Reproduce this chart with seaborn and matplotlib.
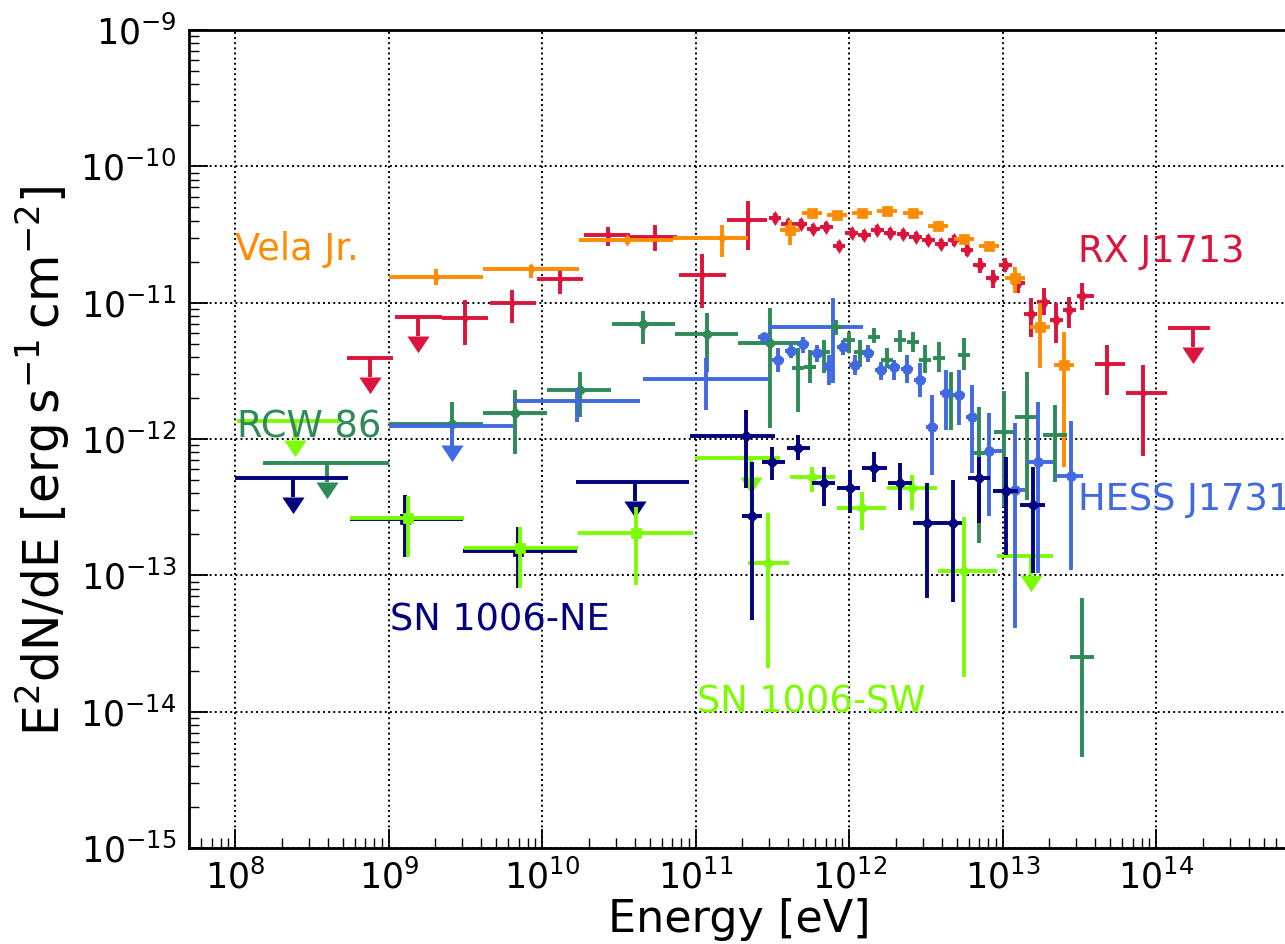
import numpy as np
import matplotlib
matplotlib.use("Agg")
import matplotlib.pyplot as plt
from matplotlib.path import Path
from matplotlib.ticker import LogLocator, NullFormatter
import seaborn as sns

# ---------------- RX J1713 ----------------
rx_ul_e = [7.5e8, 1.55e9, 1.73e14]
rx_ul_elo = [5.3e8, 1.09e9, 1.19e14]
rx_ul_ehi = [1.06e9, 2.21e9, 2.23e14]
rx_ul_f = [3.9e-12, 7.8e-12, 6.5e-12]

rx_lat_e = [3.13e9, 6.33e9, 1.30e10, 2.67e10, 5.41e10, 1.09e11, 2.18e11, 4.76e13, 8.17e13]
rx_lat_elo = [2.21e9, 4.55e9, 9.21e9, 1.86e10, 3.72e10, 7.75e10, 1.59e11, 3.97e13, 6.33e13]
rx_lat_ehi = [4.42e9, 9.07e9, 1.84e10, 3.72e10, 7.52e10, 1.57e11, 2.90e11, 6.24e13, 1.17e14]
rx_lat_f = [7.7e-12, 9.9e-12, 1.49e-11, 3.13e-11, 3.03e-11, 1.59e-11, 4.04e-11, 3.54e-12, 2.17e-12]
rx_lat_flo = [4.9e-12, 7.1e-12, 1.16e-11, 2.60e-11, 2.39e-11, 9.1e-12, 2.43e-11, 2.10e-12, 7.49e-13]
rx_lat_fhi = [1.04e-11, 1.24e-11, 1.82e-11, 3.59e-11, 3.71e-11, 2.27e-11, 5.56e-11, 4.89e-12, 3.48e-12]

rx_tev_e = [3.27e11, 3.96e11, 4.80e11, 5.82e11, 7.05e11, 8.54e11, 1.035e12, 1.25e12, 1.52e12,
            1.84e12, 2.23e12, 2.70e12, 3.27e12, 3.97e12, 4.81e12, 5.82e12, 7.06e12, 8.55e12,
            1.035e13, 1.26e13, 1.52e13, 1.84e13, 2.23e13, 2.71e13, 3.28e13]
rx_tev_elo = [2.97e11, 3.60e11, 4.36e11, 5.29e11, 6.41e11, 7.76e11, 9.41e11, 1.14e12, 1.38e12,
              1.67e12, 2.03e12, 2.45e12, 2.97e12, 3.61e12, 4.37e12, 5.29e12, 6.42e12, 7.77e12,
              9.41e12, 1.15e13, 1.38e13, 1.67e13, 2.03e13, 2.46e13, 3.02e13]
rx_tev_ehi = [3.60e11, 4.36e11, 5.28e11, 6.40e11, 7.76e11, 9.39e11, 1.14e12, 1.38e12, 1.67e12,
              2.02e12, 2.45e12, 2.97e12, 3.60e12, 4.37e12, 5.29e12, 6.40e12, 7.77e12, 9.41e12,
              1.14e13, 1.39e13, 1.67e13, 2.02e13, 2.45e13, 2.98e13, 3.90e13]
rx_tev_f = [4.17e-11, 3.77e-11, 3.77e-11, 3.47e-11, 3.59e-11, 2.60e-11, 3.24e-11, 3.13e-11, 3.41e-11,
            3.24e-11, 3.19e-11, 3.03e-11, 2.88e-11, 2.69e-11, 2.88e-11, 2.43e-11, 1.89e-11, 1.52e-11,
            1.89e-11, 1.39e-11, 8.25e-12, 1.01e-11, 7.45e-12, 8.83e-12, 1.12e-11]
rx_tev_flo = [3.83e-11, 3.46e-11, 3.46e-11, 3.19e-11, 3.30e-11, 2.39e-11, 2.98e-11, 2.88e-11, 3.13e-11,
              2.98e-11, 2.93e-11, 2.78e-11, 2.65e-11, 2.47e-11, 2.62e-11, 2.20e-11, 1.65e-11, 1.28e-11,
              1.68e-11, 1.18e-11, 5.59e-12, 8.11e-12, 5.05e-12, 6.51e-12, 8.83e-12]
rx_tev_fhi = [4.54e-11, 4.10e-11, 4.10e-11, 3.78e-11, 3.91e-11, 2.83e-11, 3.53e-11, 3.41e-11, 3.71e-11,
              3.53e-11, 3.47e-11, 3.30e-11, 3.13e-11, 2.93e-11, 3.16e-11, 2.68e-11, 2.12e-11, 1.73e-11,
              2.12e-11, 1.59e-11, 1.08e-11, 1.28e-11, 9.93e-12, 1.10e-11, 1.39e-11]

# ---------------- Vela Jr. ----------------
vela_lat_e = [2.02e9, 8.41e9, 3.55e10, 1.48e11]
vela_lat_elo = [1.0e9, 4.1e9, 1.73e10, 7.08e10]
vela_lat_ehi = [4.1e9, 1.73e10, 7.08e10, 2.18e11]
vela_lat_f = [1.54e-11, 1.77e-11, 2.88e-11, 2.98e-11]
vela_lat_flo = [1.35e-11, 1.52e-11, 2.70e-11, 2.16e-11]
vela_lat_fhi = [1.77e-11, 1.89e-11, 3.05e-11, 3.71e-11]

vela_tev_e = [4.09e11, 5.70e11, 8.29e11, 1.21e12, 1.75e12, 2.59e12, 3.77e12, 5.57e12, 8.11e12,
              1.20e13, 1.74e13, 2.50e13]
vela_tev_elo = [3.52e11, 4.91e11, 7.13e11, 1.04e12, 1.51e12, 2.23e12, 3.24e12, 4.79e12, 6.98e12,
                1.03e13, 1.50e13, 2.15e13]
vela_tev_ehi = [4.75e11, 6.62e11, 9.63e11, 1.41e12, 2.03e12, 3.01e12, 4.38e12, 6.47e12, 9.42e12,
                1.39e13, 2.02e13, 2.91e13]
vela_tev_f = [3.41e-11, 4.54e-11, 4.39e-11, 4.54e-11, 4.70e-11, 4.54e-11, 3.65e-11, 2.93e-11, 2.60e-11,
              1.51e-11, 6.62e-12, 3.48e-12]
vela_tev_flo = [2.65e-11, 4.20e-11, 4.06e-11, 4.20e-11, 4.35e-11, 4.20e-11, 3.38e-11, 2.71e-11, 2.40e-11,
                1.18e-11, 3.31e-12, 6.22e-13]
vela_tev_fhi = [4.04e-11, 4.90e-11, 4.74e-11, 4.90e-11, 5.08e-11, 4.90e-11, 3.94e-11, 3.16e-11, 2.81e-11,
                1.82e-11, 9.93e-12, 6.09e-12]

# ---------------- RCW 86 ----------------
rcw_ul_e = [3.95e8]
rcw_ul_elo = [1.51e8]
rcw_ul_ehi = [1.0e9]
rcw_ul_f = [6.65e-13]

rcw_lat_e = [2.57e9, 6.62e9, 1.75e10, 4.52e10, 1.18e11, 3.03e11]
rcw_lat_elo = [1.0e9, 4.1e9, 1.07e10, 2.83e10, 7.30e10, 1.88e11]
rcw_lat_ehi = [4.1e9, 1.07e10, 2.79e10, 7.30e10, 1.88e11, 4.76e11]
rcw_lat_f = [1.29e-12, 1.55e-12, 2.28e-12, 6.97e-12, 5.89e-12, 5.06e-12]
rcw_lat_flo = [7.24e-13, 7.75e-13, 1.45e-12, 4.97e-12, 3.10e-12, 1.20e-12]
rcw_lat_fhi = [1.87e-12, 2.28e-12, 3.10e-12, 8.68e-12, 8.39e-12, 9.12e-12]

rcw_tev_e = [4.62e11, 5.53e11, 6.82e11, 8.17e11, 9.92e11, 1.17e12, 1.44e12, 1.75e12, 2.13e12,
             2.59e12, 3.10e12, 3.83e12, 4.58e12, 5.57e12, 6.98e12, 1.015e13, 1.43e13, 2.18e13, 3.27e13]
rcw_tev_elo = [4.22e11, 5.05e11, 6.23e11, 7.47e11, 9.07e11, 1.07e12, 1.32e12, 1.60e12, 1.95e12,
               2.37e12, 2.83e12, 3.50e12, 4.19e12, 5.09e12, 6.38e12, 8.73e12, 1.19e13, 1.82e13, 2.73e13]
rcw_tev_ehi = [5.05e11, 6.05e11, 7.46e11, 8.94e11, 1.085e12, 1.28e12, 1.58e12, 1.91e12, 2.33e12,
               2.83e12, 3.39e12, 4.19e12, 5.01e12, 6.09e12, 7.64e12, 1.18e13, 1.71e13, 2.61e13, 3.91e13]
rcw_tev_f = [3.31e-12, 3.37e-12, 4.34e-12, 6.62e-12, 5.32e-12, 4.34e-12, 5.59e-12, 3.79e-12, 5.32e-12,
             5.14e-12, 3.79e-12, 3.92e-12, 2.10e-12, 4.13e-12, 7.88e-13, 1.12e-12, 1.45e-12, 1.07e-12, 2.51e-14]
rcw_tev_flo = [1.58e-12, 2.57e-12, 3.04e-12, 5.78e-12, 4.27e-12, 3.37e-12, 5.05e-12, 3.31e-12, 4.34e-12,
               4.34e-12, 3.04e-12, 3.10e-12, 1.16e-12, 3.20e-12, 1.72e-13, 3.16e-13, 3.56e-13, 4.83e-13, 4.64e-15]
rcw_tev_fhi = [4.64e-12, 4.49e-12, 5.32e-12, 7.45e-12, 6.09e-12, 5.32e-12, 6.51e-12, 4.64e-12, 6.30e-12,
               6.09e-12, 4.89e-12, 5.14e-12, 3.10e-12, 5.50e-12, 1.71e-12, 2.25e-12, 3.10e-12, 1.77e-12, 6.80e-14]

# ---------------- HESS J1731 ----------------
j1731_ul_e = [2.57e9]
j1731_ul_elo = [1.0e9]
j1731_ul_ehi = [6.42e9]
j1731_ul_f = [1.24e-12]

j1731_lat_e = [1.68e10, 1.16e11, 7.81e11]
j1731_lat_elo = [6.42e9, 4.52e10, 2.94e11]
j1731_lat_ehi = [4.32e10, 2.94e11, 1.22e12]
j1731_lat_f = [1.90e-12, 2.75e-12, 6.62e-12]
j1731_lat_flo = [1.33e-12, 1.63e-12, 2.57e-12]
j1731_lat_fhi = [2.36e-12, 3.92e-12, 1.08e-11]

j1731_tev_e = [2.77e11, 3.42e11, 4.16e11, 4.98e11, 6.14e11, 7.35e11, 9.07e11, 1.09e12, 1.32e12,
               1.60e12, 1.95e12, 2.37e12, 2.88e12, 3.45e12, 4.25e12, 5.17e12, 6.28e12, 8.11e12,
               1.20e13, 1.69e13, 2.77e13]
j1731_tev_elo = [2.53e11, 3.13e11, 3.80e11, 4.55e11, 5.61e11, 6.72e11, 8.29e11, 9.96e11, 1.21e12,
                 1.46e12, 1.78e12, 2.17e12, 2.63e12, 3.15e12, 3.88e12, 4.73e12, 5.74e12, 7.63e12,
                 1.06e13, 1.43e13, 2.18e13]
j1731_tev_ehi = [3.03e11, 3.74e11, 4.55e11, 5.45e11, 6.72e11, 8.04e11, 9.92e11, 1.19e12, 1.44e12,
                 1.75e12, 2.13e12, 2.59e12, 3.15e12, 3.77e12, 4.65e12, 5.66e12, 6.87e12, 9.85e12,
                 1.39e13, 2.12e13, 3.32e13]
j1731_tev_f = [5.59e-12, 3.79e-12, 4.42e-12, 4.97e-12, 4.27e-12, 3.43e-12, 4.72e-12, 3.48e-12, 4.27e-12,
               3.20e-12, 3.37e-12, 3.26e-12, 2.70e-12, 1.22e-12, 2.17e-12, 2.10e-12, 1.45e-12, 8.15e-13,
               4.22e-13, 6.77e-13, 5.34e-13]
j1731_tev_flo = [5.23e-12, 3.10e-12, 3.92e-12, 4.27e-12, 3.67e-12, 2.49e-12, 4.13e-12, 2.94e-12, 3.67e-12,
                 2.70e-12, 2.70e-12, 2.57e-12, 2.03e-12, 5.43e-13, 1.16e-12, 1.26e-12, 5.62e-13, 2.72e-13,
                 4.10e-14, 1.04e-13, 1.09e-13]
j1731_tev_fhi = [5.98e-12, 4.64e-12, 5.05e-12, 5.59e-12, 4.89e-12, 4.13e-12, 5.32e-12, 4.13e-12, 4.89e-12,
                 3.67e-12, 3.79e-12, 4.13e-12, 3.61e-12, 2.10e-12, 3.20e-12, 3.20e-12, 2.49e-12, 1.55e-12,
                 1.31e-12, 1.87e-12, 1.35e-12]

# ---------------- SN 1006-NE ----------------
ne_ul_e = [2.37e8, 4.0e10]
ne_ul_elo = [1.0e8, 1.65e10]
ne_ul_ehi = [5.41e8, 9.0e10]
ne_ul_f = [5.16e-13, 4.83e-13]

ne_lat_e = [1.27e9, 6.92e9]
ne_lat_elo = [5.57e8, 3.03e9]
ne_lat_ehi = [3.03e9, 1.68e10]
ne_lat_f = [2.58e-13, 1.51e-13]
ne_lat_flo = [1.36e-13, 8.05e-14]
ne_lat_fhi = [3.87e-13, 2.26e-13]

ne_tev_e = [2.12e11, 2.32e11, 3.13e11, 4.62e11, 6.82e11, 1.01e12, 1.44e12, 2.13e12, 3.20e12,
            4.72e12, 6.98e12, 1.05e13, 1.57e13]
ne_tev_elo = [9.14e10, 1.99e11, 2.69e11, 3.92e11, 5.70e11, 8.29e11, 1.21e12, 1.78e12, 2.59e12,
              3.89e12, 5.92e12, 8.61e12, 1.29e13]
ne_tev_ehi = [3.27e11, 2.69e11, 3.80e11, 5.53e11, 8.05e11, 1.17e12, 1.75e12, 2.55e12, 3.89e12,
              5.41e12, 8.23e12, 1.25e13, 1.88e13]
ne_tev_f = [1.05e-12, 2.72e-13, 6.77e-13, 8.57e-13, 4.75e-13, 4.36e-13, 6.12e-13, 4.75e-13, 2.42e-13,
            2.42e-13, 5.16e-13, 4.15e-13, 3.27e-13]
ne_tev_flo = [4.36e-13, 4.69e-14, 4.99e-13, 7.00e-13, 3.22e-13, 2.86e-13, 4.83e-13, 3.01e-13, 6.80e-14,
              6.36e-14, 2.42e-13, 1.41e-13, 1.04e-13]
ne_tev_fhi = [1.63e-12, 6.77e-13, 8.72e-13, 1.07e-12, 6.22e-13, 5.91e-13, 8.02e-13, 6.65e-13, 4.75e-13,
              4.99e-13, 7.36e-13, 7.36e-13, 6.22e-13]

# ---------------- SN 1006-SW ----------------
sw_ul_e = [2.44e8, 2.28e11, 1.52e13]
sw_ul_elo = [1.02e8, 9.85e10, 9.2e12]
sw_ul_ehi = [4.80e8, 3.52e11, 2.12e13]
sw_ul_f = [1.35e-12, 7.24e-13, 1.38e-13]

sw_lat_e = [1.33e9, 7.13e9, 4.06e10]
sw_lat_elo = [5.6e8, 3.08e9, 1.70e10]
sw_lat_ehi = [3.08e9, 1.70e10, 9.55e10]
sw_lat_f = [2.63e-13, 1.58e-13, 2.04e-13]
sw_lat_flo = [1.36e-13, 8.05e-14, 8.48e-14]
sw_lat_fhi = [3.81e-13, 2.26e-13, 3.16e-13]

sw_tev_e = [2.94e11, 5.70e11, 1.21e12, 2.55e12, 5.57e12]
sw_tev_elo = [2.18e11, 4.09e11, 8.29e11, 1.75e12, 3.77e12]
sw_tev_ehi = [4.03e11, 8.05e11, 1.73e12, 3.72e12, 9.14e12]
sw_tev_f = [1.23e-13, 5.25e-13, 3.11e-13, 4.36e-13, 1.07e-13]
sw_tev_flo = [2.09e-14, 4.07e-13, 2.15e-13, 3.01e-13, 1.79e-14]
sw_tev_fhi = [2.86e-13, 6.22e-13, 4.07e-13, 5.43e-13, 2.67e-13]

# source names, colours and label anchors (left edge, baseline)
source_names = ["Vela Jr.", "RX J1713", "RCW 86", "HESS J1731", "SN 1006-NE", "SN 1006-SW"]
source_colors = ["darkorange", "crimson", "seagreen", "royalblue", "navy", "lawngreen"]
label_x = [1.0e8, 3.08e13, 1.02e8, 3.08e13, 1.015e9, 1.015e11]
label_y = [2.06e-11, 1.99e-11, 1.03e-12, 3.01e-13, 3.96e-14, 9.9e-15]

# ---------------- style ----------------
sns.set_theme(style="ticks", rc={
    "xtick.direction": "in", "ytick.direction": "in",
    "xtick.major.size": 14, "ytick.major.size": 14,
    "xtick.minor.size": 7, "ytick.minor.size": 7,
    "xtick.major.width": 1.3, "ytick.major.width": 1.3,
    "xtick.minor.width": 1.0, "ytick.minor.width": 1.0,
    "xtick.major.pad": 8, "ytick.major.pad": 8,
    "axes.linewidth": 2.0, "axes.edgecolor": "black",
    "xtick.color": "black", "ytick.color": "black",
    "text.color": "black", "axes.labelcolor": "black",
})
plt.rcParams["font.family"] = ["DejaVu Sans"]
plt.rcParams["mathtext.fontset"] = "dejavusans"

LW = 2.8
ARROW_DROP = 0.725
ARROW = Path([(-1.0, 0.0), (0.0, -1.5), (1.0, 0.0), (-1.0, 0.0)],
             [Path.MOVETO, Path.LINETO, Path.LINETO, Path.CLOSEPOLY])

fig = plt.figure(figsize=(12.85, 9.44), dpi=100)
ax = fig.add_axes([0.14724, 0.1017, 0.85587, 0.8665])
ax.set_xscale("log")
ax.set_yscale("log")


def points(e, elo, ehi, f, flo, fhi, color, marker, size, z):
    e, elo, ehi = map(np.asarray, (e, elo, ehi))
    f, flo, fhi = map(np.asarray, (f, flo, fhi))
    ax.errorbar(e, f, xerr=[e - elo, ehi - e], yerr=[f - flo, fhi - f],
                fmt="none", ecolor=color, elinewidth=LW, capsize=0, zorder=z)
    sns.scatterplot(x=e, y=f, color=color, marker=marker, s=size ** 2,
                    edgecolor=color, linewidth=0.5, ax=ax, zorder=z + 0.01,
                    legend=False)


def upper_limits(e, elo, ehi, f, color, z):
    e, elo, ehi, f = map(np.asarray, (e, elo, ehi, f))
    ax.errorbar(e, f, xerr=[e - elo, ehi - e], yerr=[f * (1 - ARROW_DROP), 0 * f],
                fmt="none", ecolor=color, elinewidth=LW, capsize=0, zorder=z)
    ax.plot(e, f * ARROW_DROP, ls="none", marker=ARROW, ms=24,
            color=color, mec=color, mew=0, zorder=z + 0.01)


# Fermi-LAT band
points(rx_lat_e, rx_lat_elo, rx_lat_ehi, rx_lat_f, rx_lat_flo, rx_lat_fhi, "crimson", "d", 5, 3.0)
upper_limits(rx_ul_e, rx_ul_elo, rx_ul_ehi, rx_ul_f, "crimson", 3.0)
points(vela_lat_e, vela_lat_elo, vela_lat_ehi, vela_lat_f, vela_lat_flo, vela_lat_fhi, "darkorange", "d", 6, 3.1)
points(rcw_lat_e, rcw_lat_elo, rcw_lat_ehi, rcw_lat_f, rcw_lat_flo, rcw_lat_fhi, "seagreen", "D", 6, 3.2)
upper_limits(rcw_ul_e, rcw_ul_elo, rcw_ul_ehi, rcw_ul_f, "seagreen", 3.2)
points(j1731_lat_e, j1731_lat_elo, j1731_lat_ehi, j1731_lat_f, j1731_lat_flo, j1731_lat_fhi, "royalblue", "o", 3, 3.3)
upper_limits(j1731_ul_e, j1731_ul_elo, j1731_ul_ehi, j1731_ul_f, "royalblue", 3.3)
points(ne_lat_e, ne_lat_elo, ne_lat_ehi, ne_lat_f, ne_lat_flo, ne_lat_fhi, "navy", "s", 7, 3.4)
upper_limits(ne_ul_e, ne_ul_elo, ne_ul_ehi, ne_ul_f, "navy", 3.4)
points(sw_lat_e, sw_lat_elo, sw_lat_ehi, sw_lat_f, sw_lat_flo, sw_lat_fhi, "lawngreen", "s", 7, 3.5)
upper_limits(sw_ul_e, sw_ul_elo, sw_ul_ehi, sw_ul_f, "lawngreen", 3.5)

# Cherenkov telescopes band
points(rx_tev_e, rx_tev_elo, rx_tev_ehi, rx_tev_f, rx_tev_flo, rx_tev_fhi, "crimson", "d", 7, 4.0)
points(vela_tev_e, vela_tev_elo, vela_tev_ehi, vela_tev_f, vela_tev_flo, vela_tev_fhi, "darkorange", "s", 7, 4.1)
points(rcw_tev_e, rcw_tev_elo, rcw_tev_ehi, rcw_tev_f, rcw_tev_flo, rcw_tev_fhi, "seagreen", "D", 3, 4.2)
points(j1731_tev_e, j1731_tev_elo, j1731_tev_ehi, j1731_tev_f, j1731_tev_flo, j1731_tev_fhi, "royalblue", "o", 7, 4.3)
points(sw_tev_e, sw_tev_elo, sw_tev_ehi, sw_tev_f, sw_tev_flo, sw_tev_fhi, "lawngreen", "D", 6, 4.4)
points(ne_tev_e, ne_tev_elo, ne_tev_ehi, ne_tev_f, ne_tev_flo, ne_tev_fhi, "navy", "D", 6, 4.5)

for name, col, tx, ty in zip(source_names, source_colors, label_x, label_y):
    ax.text(tx, ty, name, color=col, fontsize=26.5, ha="left", va="baseline", zorder=6)

ax.set_xlim(5e7, 7.3e14)
ax.set_ylim(1e-15, 1e-9)
ax.set_xticks(10.0 ** np.arange(8, 15))
ax.xaxis.set_minor_locator(LogLocator(base=10, subs=np.arange(2, 10), numticks=30))
ax.yaxis.set_minor_locator(LogLocator(base=10, subs=np.arange(2, 10), numticks=30))
ax.xaxis.set_minor_formatter(NullFormatter())
ax.yaxis.set_minor_formatter(NullFormatter())
ax.tick_params(which="both", top=False, right=False, labelsize=25)
ax.tick_params(axis="y", which="major", pad=9)
ax.grid(True, which="major", color="black", linestyle=":", linewidth=1.4)
ax.set_axisbelow(False)

ax.set_xlabel("Energy [eV]", fontsize=32, labelpad=2)
ax.set_ylabel(r"E$^2$dN/dE [erg$\,$s$^{-1}\,$cm$^{-2}$]", fontsize=35)
ax.yaxis.set_label_coords(-0.107, 0.474)

fig.savefig("out.png", dpi=100)
